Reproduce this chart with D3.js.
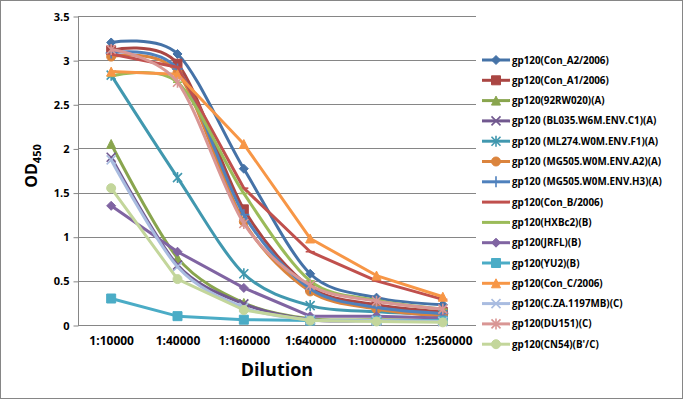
<!DOCTYPE html>
<html>
<head>
<meta charset="utf-8">
<script src="https://cdn.jsdelivr.net/npm/d3@7/dist/d3.min.js"></script>
<style>
  body { margin: 0; background: #fff; }
  svg text { font-family: "Open Sans", "DejaVu Sans", sans-serif; font-weight: bold; fill: #000; }
</style>
</head>
<body>
<div id="chart"></div>
<script>
var dilutions = ['1:10000', '1:40000', '1:160000', '1:640000', '1:1000000', '1:2560000'];
var yTicks = [0, 0.5, 1, 1.5, 2, 2.5, 3, 3.5];

var seriesNames = [
  'gp120(Con_A2/2006)',
  'gp120(Con_A1/2006)',
  'gp120(92RW020)(A)',
  'gp120 (BL035.W6M.ENV.C1)(A)',
  'gp120 (ML274.W0M.ENV.F1)(A)',
  'gp120 (MG505.W0M.ENV.A2)(A)',
  'gp120 (MG505.W0M.ENV.H3)(A)',
  'gp120(Con_B/2006)',
  'gp120(HXBc2)(B)',
  'gp120(JRFL)(B)',
  'gp120(YU2)(B)',
  'gp120(Con_C/2006)',
  'gp120(C.ZA.1197MB)(C)',
  'gp120(DU151)(C)',
  'gp120(CN54)(B\'/C)'
];

var conA2 = [3.20, 3.07, 1.77, 0.58, 0.31, 0.23];
var conA1 = [3.11, 2.96, 1.31, 0.43, 0.23, 0.15];
var rw020 = [2.05, 0.76, 0.25, 0.07, 0.06, 0.05];
var bl035 = [1.90, 0.68, 0.24, 0.06, 0.05, 0.04];
var ml274 = [2.83, 1.67, 0.58, 0.22, 0.15, 0.12];
var mg505a2 = [3.04, 2.86, 1.17, 0.38, 0.18, 0.10];
var mg505h3 = [3.08, 2.90, 1.25, 0.41, 0.20, 0.13];
var conB = [3.07, 2.92, 1.55, 0.83, 0.50, 0.29];
var hxbc2 = [2.82, 2.75, 1.49, 0.50, 0.28, 0.18];
var jrfl = [1.35, 0.83, 0.42, 0.10, 0.10, 0.08];
var yu2 = [0.30, 0.10, 0.06, 0.05, 0.05, 0.05];
var conC = [2.87, 2.84, 2.05, 0.98, 0.56, 0.32];
var cza = [1.87, 0.66, 0.20, 0.06, 0.05, 0.04];
var du151 = [3.12, 2.75, 1.15, 0.45, 0.27, 0.18];
var cn54 = [1.55, 0.52, 0.17, 0.05, 0.04, 0.03];

var seriesValues = [conA2, conA1, rw020, bl035, ml274, mg505a2, mg505h3, conB, hxbc2, jrfl, yu2, conC, cza, du151, cn54];

// styling per series: colour, marker, smoothed line
var styles = [
  { color: '#4572A7', marker: 'diamond', smooth: true },
  { color: '#AA4643', marker: 'square', smooth: true },
  { color: '#89A54E', marker: 'triangle', smooth: true },
  { color: '#71588F', marker: 'x', smooth: true },
  { color: '#4198AF', marker: 'star', smooth: true },
  { color: '#DB843D', marker: 'circle', smooth: true },
  { color: '#4F81BD', marker: 'plus', smooth: true },
  { color: '#C0504D', marker: 'dash', smooth: false },
  { color: '#9BBB59', marker: 'dash', smooth: true },
  { color: '#8064A2', marker: 'diamond', smooth: false },
  { color: '#4BACC6', marker: 'square', smooth: false },
  { color: '#F79646', marker: 'triangle', smooth: false },
  { color: '#A9BCE0', marker: 'x', smooth: true },
  { color: '#D99694', marker: 'star', smooth: true },
  { color: '#C3D69B', marker: 'circle', smooth: false }
];

var width = 683;
var height = 399;
var plot = { left: 78, right: 476, top: 16, bottom: 325 };

var svg = d3.select('#chart').append('svg')
    .attr('width', width)
    .attr('height', height);

// outer chart border
svg.append('rect')
    .attr('x', 0.5).attr('y', 0.5)
    .attr('width', width - 1).attr('height', height - 1)
    .attr('fill', '#fff')
    .attr('stroke', '#868686');

var xScale = d3.scalePoint()
    .domain(dilutions)
    .range([plot.left, plot.right])
    .padding(0.5);

var yScale = d3.scaleLinear()
    .domain([0, 3.5])
    .range([plot.bottom, plot.top]);

// gridlines
svg.append('g')
  .selectAll('line')
  .data(yTicks.slice(1))
  .enter()
  .append('line')
    .attr('x1', plot.left).attr('x2', plot.right)
    .attr('y1', d => Math.round(yScale(d)) + 0.5)
    .attr('y2', d => Math.round(yScale(d)) + 0.5)
    .attr('stroke', '#868686');

// y axis
var yAxis = d3.axisLeft(yScale)
    .tickValues(yTicks)
    .tickFormat(d3.format('~g'))
    .tickSize(5)
    .tickPadding(4);

svg.append('g')
    .attr('transform', 'translate(' + (plot.left + 0.5) + ',0.5)')
    .call(yAxis)
    .call(g => g.selectAll('line, path').attr('stroke', '#868686'))
    .call(g => g.select('.domain').attr('d', 'M0,' + plot.top + 'V' + Math.round(plot.bottom)))
    .call(g => g.selectAll('text').style('font-size', '11px'));

// x axis
var xAxis = d3.axisBottom(xScale)
    .tickSize(0)
    .tickPadding(11);

svg.append('g')
    .attr('transform', 'translate(0,' + (plot.bottom + 0.5) + ')')
    .call(xAxis)
    .call(g => g.select('.domain').attr('stroke', '#868686').attr('d', 'M' + plot.left + ',0H' + plot.right))
    .call(g => g.selectAll('text').style('font-size', '12px'));

// axis titles
svg.append('text')
    .attr('x', (plot.left + plot.right) / 2)
    .attr('y', 376)
    .style('text-anchor', 'middle')
    .style('font-size', '18px')
    .text('Dilution');

var yTitle = svg.append('text')
    .attr('transform', 'translate(37,166) rotate(-90)')
    .style('text-anchor', 'middle')
    .style('font-size', '16px');
yTitle.append('tspan').text('OD');
yTitle.append('tspan').attr('dy', 4).style('font-size', '11px').text('450');

// marker drawing
function markerPath(type, s) {
  var h = s / 2;
  switch (type) {
    case 'diamond': return 'M0,' + (-h) + 'L' + h + ',0L0,' + h + 'L' + (-h) + ',0Z';
    case 'square': return 'M' + (-h) + ',' + (-h) + 'H' + h + 'V' + h + 'H' + (-h) + 'Z';
    case 'triangle': return 'M0,' + (-h) + 'L' + h + ',' + h + 'H' + (-h) + 'Z';
    case 'circle': return d3.symbol(d3.symbolCircle, s * s * 0.78)();
    default: return null;
  }
}

function drawMarker(g, type, color, x, y) {
  var s = 9;
  var h = s / 2;
  if (type === 'x' || type === 'star' || type === 'plus' || type === 'dash') {
    var p = '';
    if (type === 'x' || type === 'star') {
      p += 'M' + (x - h) + ',' + (y - h) + 'L' + (x + h) + ',' + (y + h);
      p += 'M' + (x - h) + ',' + (y + h) + 'L' + (x + h) + ',' + (y - h);
    }
    if (type === 'star' || type === 'plus') {
      p += 'M' + x + ',' + (y - h - 1) + 'V' + (y + h + 1);
    }
    if (type === 'plus') {
      p += 'M' + (x - h - 1) + ',' + y + 'H' + (x + h + 1);
    }
    if (type === 'dash') {
      p += 'M' + (x - h) + ',' + y + 'H' + (x + h);
    }
    g.append('path').attr('d', p).attr('stroke', color).attr('stroke-width', 1.6).attr('fill', 'none');
  } else {
    g.append('path')
        .attr('d', markerPath(type, s))
        .attr('transform', 'translate(' + x + ',' + y + ')')
        .attr('fill', color)
        .attr('stroke', color)
        .attr('stroke-width', 1);
  }
}

// series lines
var series = seriesNames.map((name, i) => ({
  name: name,
  values: seriesValues[i],
  style: styles[i]
}));

var lines = svg.append('g');
series.forEach(function (s) {
  var line = d3.line()
      .x((d, i) => xScale(dilutions[i]))
      .y(d => yScale(d))
      .curve(s.style.smooth ? d3.curveCardinal.tension(0.1) : d3.curveLinear);
  var g = lines.append('g');
  g.append('path')
      .datum(s.values)
      .attr('d', line)
      .attr('fill', 'none')
      .attr('stroke', s.style.color)
      .attr('stroke-width', 3)
      .attr('stroke-linejoin', 'round');
  s.values.forEach(function (v, i) {
    drawMarker(g, s.style.marker, s.style.color, xScale(dilutions[i]), yScale(v));
  });
});

// legend
var legend = svg.append('g');
series.forEach(function (s, i) {
  var y = 60 + i * 20.3;
  var g = legend.append('g');
  g.append('line')
      .attr('x1', 482).attr('x2', 510)
      .attr('y1', y).attr('y2', y)
      .attr('stroke', s.style.color)
      .attr('stroke-width', 3);
  drawMarker(g, s.style.marker, s.style.color, 496, y);
  g.append('text')
      .attr('x', 512)
      .attr('y', y + 3.5)
      .style('font-size', '9.8px')
      .text(s.name);
});
</script>
</body>
</html>
